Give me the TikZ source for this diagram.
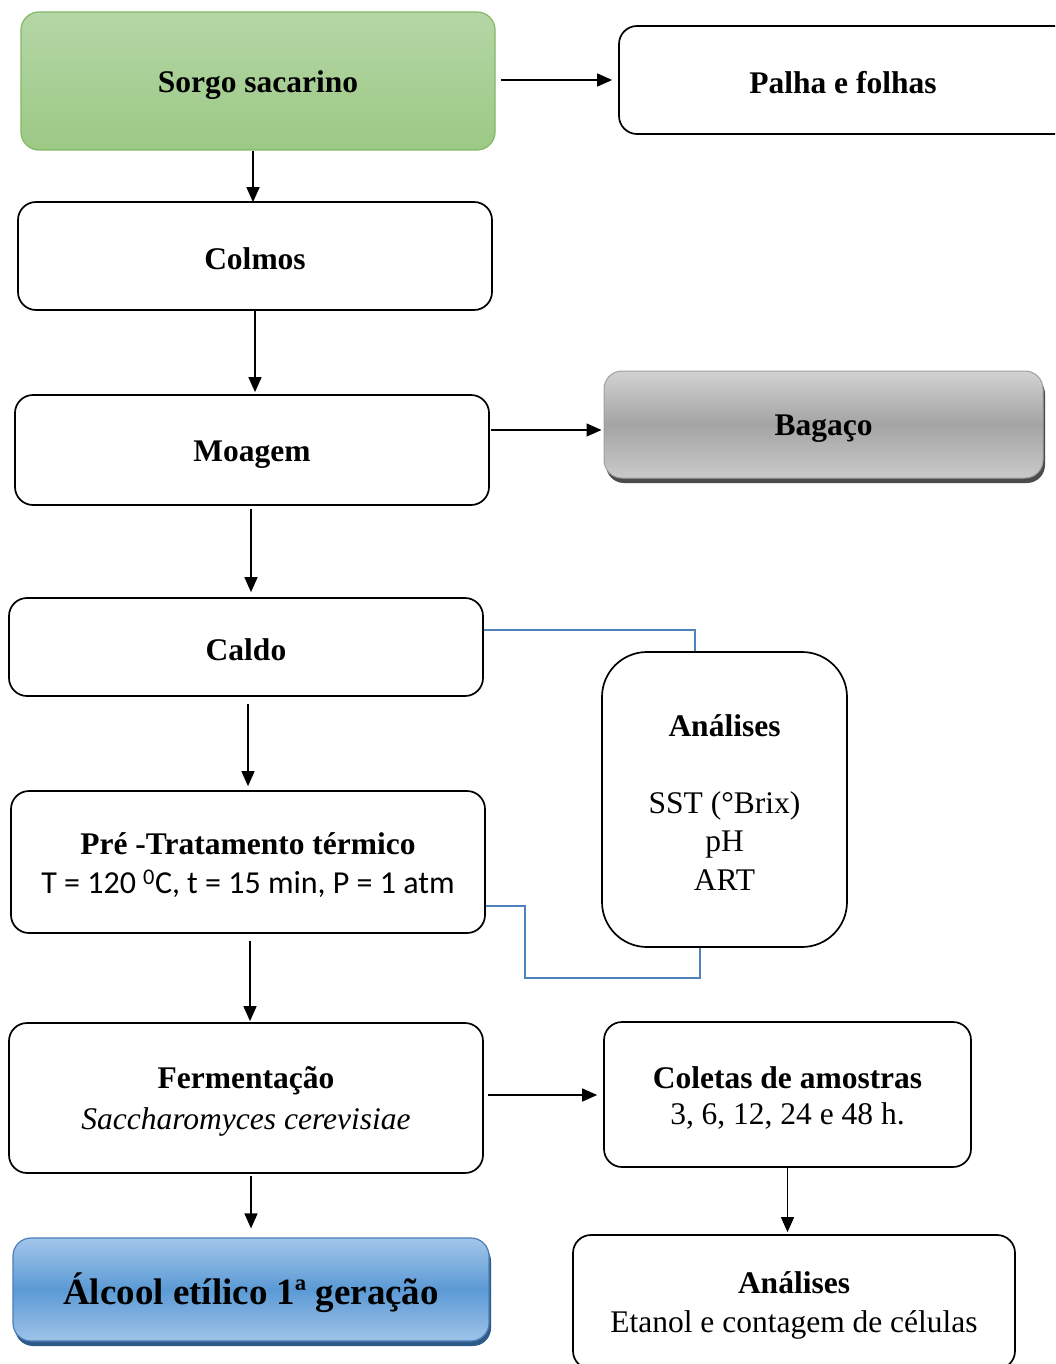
\documentclass[tikz,border=0pt]{standalone}
\usepackage{fontspec}
\setmainfont{Liberation Serif}
\newfontfamily\calibri{Carlito}
\usetikzlibrary{arrows.meta,calc,shadows}
\definecolor{gtop}{HTML}{B5D6A6}
\definecolor{gbot}{HTML}{9BC985}
\definecolor{gline}{HTML}{82B865}
\definecolor{btop}{HTML}{A3C6EA}
\definecolor{bmid}{HTML}{5B9AD5}
\definecolor{bbot}{HTML}{9FC3E8}
\definecolor{bline}{HTML}{4A7EBB}
\definecolor{bshadow}{HTML}{2E5A88}
\definecolor{ktop}{HTML}{D2D2D2}
\definecolor{kmid}{HTML}{A4A4A4}
\definecolor{kbot}{HTML}{CACACA}
\definecolor{conn}{HTML}{4F81BD}
\pgfdeclareverticalshading{greyshade}{100bp}{color(0bp)=(kbot); color(25bp)=(kbot); color(50bp)=(kmid); color(75bp)=(ktop); color(100bp)=(ktop)}
\pgfdeclareverticalshading{blueshade}{100bp}{color(0bp)=(bbot); color(25bp)=(bbot); color(50bp)=(bmid); color(75bp)=(btop); color(100bp)=(btop)}
\newcommand\fs{\fontsize{31.5}{38.5}\selectfont}
\newcommand\dn[1]{\raisebox{-3pt}[\height][\depth]{#1}}
\begin{document}
\begin{tikzpicture}[x=1pt,y=-1pt,
  box/.style={draw, line width=1.7pt, rounded corners=18pt, align=center, font=\fs, inner sep=0pt},
  arr/.style={line width=1.4pt, -{Triangle[length=15pt,width=13pt]}},
  bline/.style={draw=conn, line width=1.6pt}]
\useasboundingbox (0,0) rectangle (1055,1364);
\clip (0,0) rectangle (1055,1364);
\fill[white] (0,0) rectangle (1055,1364);
% nodes
\node[box, draw=gline, line width=1.2pt, top color=gtop, bottom color=gbot, minimum width=474pt, minimum height=138pt] (sorgo) at (258,81) {\raisebox{-4pt}[\height][\depth]{\textbf{Sorgo sacarino}}};
\node[box, minimum width=456pt, minimum height=108pt] (palha) at (847,80) {\hspace*{-8pt}\dn{\textbf{Palha e folhas}}};
\node[box, minimum width=474pt, minimum height=108pt] (colmos) at (255,256) {\dn{\textbf{Colmos}}};
\node[box, minimum width=474pt, minimum height=110pt] (moagem) at (252,450) {\raisebox{-5pt}[\height][\depth]{\textbf{Moagem}}};
\node[box, draw=gray!75, line width=1pt, shading=greyshade,
  drop shadow={shadow xshift=2pt, shadow yshift=-5pt, fill=gray!60!black, opacity=1},
  minimum width=439pt, minimum height=107pt] (bagaco) at (823.5,424.5) {\raisebox{-4pt}[\height][\depth]{\textbf{Bagaço}}};
\node[box, minimum width=474pt, minimum height=98pt] (caldo) at (246,647) {\dn{\textbf{Caldo}}};
\node[box, rounded corners=45pt, minimum width=245pt, minimum height=295pt] (analR) at (724.5,799.5)
  {\dn{\textbf{Análises}}\\[38pt]\dn{SST (°Brix)}\\\dn{pH}\\\dn{ART}};
\node[box, minimum width=474pt, minimum height=142pt] (pre) at (248,862)
  {\dn{\textbf{Pré -Tratamento térmico}}\\\dn{\calibri\fontsize{32}{38}\selectfont T = 120 \textsuperscript{0}C, t = 15 min, P = 1 atm}};
\node[box, minimum width=474pt, minimum height=150pt] (ferm) at (246,1098)
  {\raisebox{-3pt}[\height][\depth]{\textbf{Fermentação}}\\[1.5pt]\raisebox{-4pt}[\height][\depth]{\textit{Saccharomyces cerevisiae}}};
\node[box, minimum width=367pt, minimum height=145pt] (coletas) at (787.5,1094.5)
  {\raisebox{-4pt}[\height][\depth]{\textbf{Coletas de amostras}}\\[-1pt]\raisebox{-3pt}[\height][\depth]{3, 6, 12, 24 e 48 h.}};
\node[box, draw=bline, line width=1.2pt, shading=blueshade,
  drop shadow={shadow xshift=2pt, shadow yshift=-5pt, fill=bshadow, opacity=1},
  font=\fontsize{37}{44}\selectfont, minimum width=476pt, minimum height=103pt] (alcool) at (251,1289.5)
  {\dn{\textbf{Álcool etílico 1ª geração}}};
\node[box, minimum width=442pt, minimum height=134pt] (analB) at (794,1302)
  {\raisebox{-3.5pt}[\height][\depth]{\textbf{Análises}}\\\raisebox{-3.5pt}[\height][\depth]{Etanol e contagem de células}};
% arrows
\draw[arr, shorten <=5pt, shorten >=6pt] (sorgo.east |- 0,80) -- (palha.west |- 0,80);
\draw[arr, shorten >=-1pt] (sorgo.south -| 253,0) -- (colmos.north -| 253,0);
\draw[arr, shorten >=2pt] (colmos.south) -- (colmos.south |- moagem.north);
\draw[arr, shorten <=1pt, shorten >=2pt] (moagem.east |- 0,430) -- (bagaco.west |- 0,430);
\draw[arr, shorten <=3pt, shorten >=5pt] (moagem.south -| 251,0) -- (caldo.north -| 251,0);
\draw[arr, shorten <=7pt, shorten >=4pt] (caldo.south -| 248,0) -- (pre.north -| 248,0);
\draw[arr, shorten <=7pt, shorten >=1pt] (pre.south -| 250,0) -- (ferm.north -| 250,0);
\draw[arr, shorten <=4pt, shorten >=6pt] (ferm.east |- 0,1095) -- (coletas.west |- 0,1095);
\draw[arr, shorten <=2pt, shorten >=9pt] (ferm.south -| 251,0) -- (alcool.north -| 251,0);
\draw[arr, shorten >=2pt] (coletas.south) -- (coletas.south |- analB.north);
% blue connectors
\draw[bline] (caldo.east |- 0,630) -| ($(analR.north)+(-29.5,0)$);
\draw[bline] (pre.east |- 0,906) -- (525,906) |- ($(analR.south)+(-24.5,30)$) -- ($(analR.south)+(-24.5,0)$);
\end{tikzpicture}
\end{document}
